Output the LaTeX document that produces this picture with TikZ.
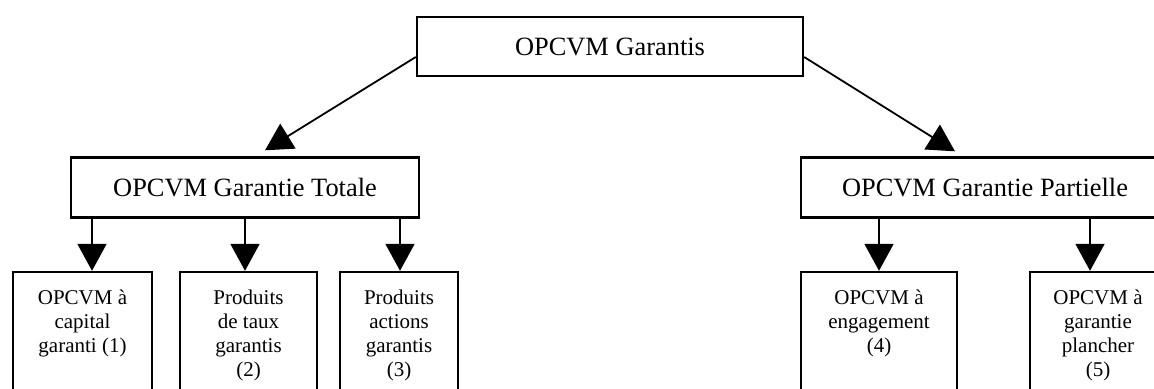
\documentclass[tikz,border=0pt]{standalone}
\usepackage{fontspec}
\setmainfont{Liberation Serif}
\usetikzlibrary{arrows.meta,positioning}
\tikzset{
  opc/.style={x=0.5pt,y=-0.5pt},
  box/.style={draw,line width=1.2pt,rectangle,inner sep=0pt},
  bigbox/.style={box,minimum height=30pt,font=\fontsize{13.2}{15}\selectfont},
  leaf/.style={box,minimum height=64pt},
  leaftxt/.style={anchor=north,align=center,inner sep=0pt,font=\fontsize{10.5}{12}\selectfont},
  arr/.style={line width=0.9pt,-{Triangle[width=14.5pt,length=13.5pt]}}
}

\begin{document}
\begin{tikzpicture}[opc]
    \useasboundingbox (0,0) rectangle (1154,388);
    \node[bigbox,minimum width=193pt,minimum height=29.5pt] (gar) at (610,46.5) {OPCVM Garantis};
    \node[bigbox,minimum width=174pt] (tot) at (245,187.5) {OPCVM Garantie Totale};
    \node[bigbox,minimum width=184pt] (par) at (985,187.5) {OPCVM Garantie Partielle};
    % leaves, bottom edge runs off the page
    \node[leaf,minimum width=69.5pt] (b1) at (82.5,336) {};
    \node[leaf,minimum width=68.5pt] (b2) at (248.5,336) {};
    \node[leaf,minimum width=59pt]   (b3) at (399,336) {};
    \node[leaf,minimum width=78pt]   (b4) at (879,336) {};
    \node[leaf,minimum width=68pt]   (b5) at (1098,336) {};
    \node[leaftxt,below=9.5pt of b1.north] (t1) {OPCVM à\\capital\\garanti (1)};
    \node[leaftxt,below=9.5pt of b2.north] (t2) {Produits\\de taux\\garantis\\(2)};
    \node[leaftxt,below=9.5pt of b3.north] (t3) {Produits\\actions\\garantis\\(3)};
    \node[leaftxt,below=9.5pt of b4.north] (t4) {OPCVM à\\engagement\\(4)};
    \node[leaftxt,below=9.5pt of b5.north] (t5) {OPCVM à\\garantie\\plancher\\(5)};
    \draw[arr] ([yshift=-5.25pt]gar.west) -- ([xshift=10pt,yshift=3pt]tot.north); % to total
    \draw[arr] ([yshift=-5.25pt]gar.east) -- ([xshift=-15pt,yshift=2.5pt]par.north); % to partial
    \foreach \p/\b/\s in {tot/b1/4.75pt,tot/b2/-1.75pt,tot/b3/0.5pt,par/b4/0pt,par/b5/-4pt}
      \draw[arr] ([xshift=\s]\b.north |- \p.south) -- ([xshift=\s]\b.north);
  \end{tikzpicture}
\end{document}
